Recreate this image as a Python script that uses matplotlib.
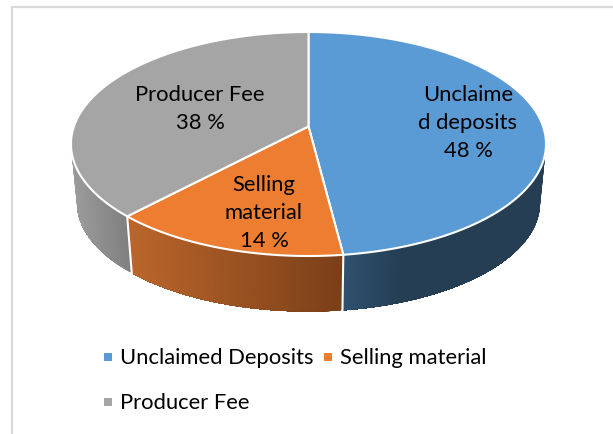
import numpy as np
import matplotlib
matplotlib.use("Agg")
import matplotlib.pyplot as plt
from matplotlib.colors import to_rgb

plt.rcParams['font.family'] = ['Lato', 'DejaVu Sans']

categories = ["Unclaimed Deposits", "Selling material", "Producer Fee"]
shares = [48, 14, 38]
slice_labels = ["Unclaime\nd deposits\n48 %", "Selling\nmaterial\n14 %", "Producer Fee\n38 %"]

top_colors = ["#5b9bd5", "#ed7d31", "#a5a5a5"]
# wall shading, left end to right end, and how much of the width the fade takes
wall_colors = [("#2f5270", "#253e54"), ("#bb662b", "#7a3f18"), ("#9c9c9c", "#808080")]
wall_fade = [0.3, 1.0, 1.0]
label_pos = [(468, 123), (264, 213), (200, 109)]

# ellipses of the top face and of the bottom face, in pixels
cx, cy, rx, ry = 308.5, 145.0, 237.5, 112.0
cx_b, cy_b, rx_b, ry_b = 308.5, 204.0, 231.5, 108.5
tilt = 0.157  # the centre of the pie sits above the centre of the ellipse


def project(angle, x0, y0, a, b):
    # angle in degrees, clockwise from 12 o'clock
    u = np.sin(np.radians(angle))
    v = np.cos(np.radians(angle))
    den = 1 + tilt * v
    return x0 + a * u * np.sqrt(1 - tilt ** 2) / den, y0 - b * (v + tilt) / den


def mix(c1, c2, t):
    c1, c2 = np.array(to_rgb(c1)), np.array(to_rgb(c2))
    return tuple(c1 + (c2 - c1) * t)


fig = plt.figure(figsize=(6.13, 4.35), dpi=100)
ax = fig.add_axes([0, 0, 1, 1])
ax.set_xlim(0, 613)
ax.set_ylim(435, 0)
ax.axis("off")

# frame of the chart area, cut off by the crop
ax.plot([11.5, 11.5, 613], [435, 7.5, 7.5], color="#d9d9d9", lw=1.6, solid_joinstyle="miter")

edges = np.cumsum([0] + shares) * 3.6

# walls first, the top face covers whatever is behind it
for i in range(len(shares)):
    ang = np.linspace(edges[i], edges[i + 1], 240)
    xt, yt = project(ang, cx, cy, rx, ry)
    xb, yb = project(ang, cx_b, cy_b, rx_b, ry_b)
    keep = np.where(yt > cy - 5)[0]
    lo, hi = xt[keep].min(), xt[keep].max()
    last = keep[-1] + 1
    # every band runs on to the end of the slice, so the next one paints over it and no seams show
    for j in keep[:-1]:
        t = min(1, (xt[j] - lo) / ((hi - lo) * wall_fade[i]))
        col = mix(wall_colors[i][0], wall_colors[i][1], t)
        ax.fill(np.r_[xt[j:last], xb[j:last][::-1]], np.r_[yt[j:last], yb[j:last][::-1]],
                color=col, lw=0, zorder=2)

# white seams between the walls
for e in edges[1:3]:
    xt, yt = project(e, cx, cy, rx, ry)
    xb, yb = project(e, cx_b, cy_b, rx_b, ry_b)
    ax.plot([xt, xb], [yt, yb], color="white", lw=1.5, zorder=3)

apex = cx, cy - tilt * ry
for i in range(len(shares)):
    ang = np.linspace(edges[i], edges[i + 1], 200)
    xt, yt = project(ang, cx, cy, rx, ry)
    ax.fill(np.r_[apex[0], xt], np.r_[apex[1], yt], facecolor=top_colors[i],
            edgecolor="white", lw=1.5, joinstyle="round", zorder=4)

for lab, (x, y) in zip(slice_labels, label_pos):
    ax.text(x, y, lab, ha="center", va="center", fontsize=15.8, color="black",
            linespacing=1.5, zorder=5)

# legend, two rows like the original
legend_xy = [(107.5, 358), (327.5, 358), (107.5, 403)]
for name, col, (x, y) in zip(categories, top_colors, legend_xy):
    ax.plot(x, y, marker="s", ms=5.2, color=col, mew=0, ls="none")
    ax.text(x + 12.5, y, name, ha="left", va="center", fontsize=15.8, color="black")

fig.savefig("out.png", dpi=100)
